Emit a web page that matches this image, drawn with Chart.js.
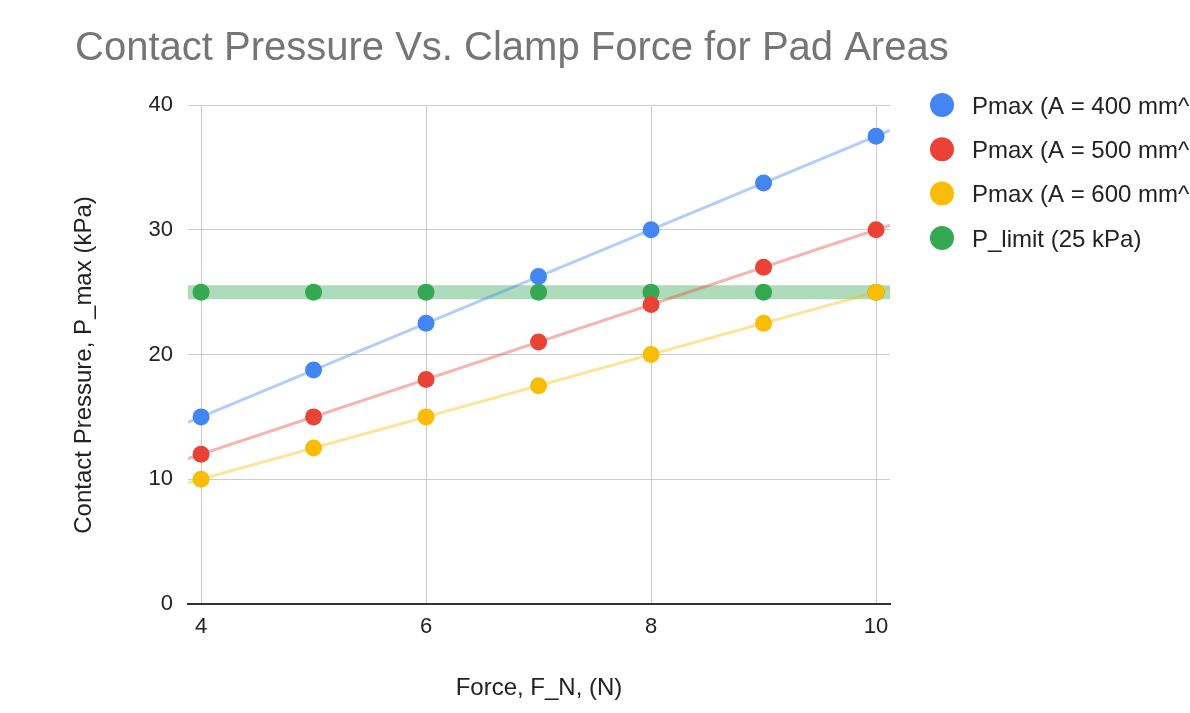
<!DOCTYPE html>
<html>
<head>
<meta charset="utf-8">
<script src="https://cdn.jsdelivr.net/npm/chart.js@4.4.0/dist/chart.umd.min.js"></script>
<style>
  html, body { margin: 0; padding: 0; background: #fff; overflow: hidden; }
  #wrap { width: 1190px; height: 713px; position: relative; }
</style>
</head>
<body>
<div id="wrap"><canvas id="myChart"></canvas></div>
<script>
// data
const forces = [4, 5, 6, 7, 8, 9, 10];
const pmax400 = [15, 18.75, 22.5, 26.25, 30, 33.75, 37.5];
const pmax500 = [12, 15, 18, 21, 24, 27, 30];
const pmax600 = [10, 12.5, 15, 17.5, 20, 22.5, 25];
const pLimit = [25, 25, 25, 25, 25, 25, 25];
const seriesNames = ['Pmax (A = 400 mm^2)', 'Pmax (A = 500 mm^2)', 'Pmax (A = 600 mm^2)', 'P_limit (25 kPa)'];
const seriesColors = ['#4285f4', '#ea4335', '#fbbc04', '#34a853'];
const xTicks = [4, 6, 8, 10];
const yTicks = [0, 10, 20, 30, 40];

const X_MIN = 3.884, X_MAX = 10.124;
const FONT = "'Liberation Sans', Arial, sans-serif";

function fade(hex, a) {
  const n = parseInt(hex.slice(1), 16);
  return `rgba(${n >> 16}, ${(n >> 8) & 255}, ${n & 255}, ${a})`;
}

// least squares trendline across the whole x range
function trend(ys) {
  const n = forces.length;
  const mx = forces.reduce((a, b) => a + b) / n;
  const my = ys.reduce((a, b) => a + b) / n;
  let sxy = 0, sxx = 0;
  forces.forEach((x, i) => { sxy += (x - mx) * (ys[i] - my); sxx += (x - mx) ** 2; });
  const m = sxy / sxx, b = my - m * mx;
  return [{x: X_MIN, y: m * X_MIN + b}, {x: X_MAX, y: m * X_MAX + b}];
}

const allSeries = [pmax400, pmax500, pmax600, pLimit];
const datasets = [];
allSeries.forEach((ys, i) => {
  datasets.push({
    label: seriesNames[i],
    data: forces.map((x, j) => ({x: x, y: ys[j]})),
    backgroundColor: seriesColors[i],
    borderWidth: 0,
    pointRadius: 8.5,
    pointHoverRadius: 8.5,
    showLine: false,
    order: 0
  });
});
allSeries.forEach((ys, i) => {
  datasets.push({
    label: 'trend ' + i,
    data: trend(ys),
    borderColor: fade(seriesColors[i], 0.4),
    borderWidth: i === 3 ? 14 : 3,
    pointRadius: 0,
    showLine: true,
    order: 1
  });
});

// title, y axis title and the legend on the right (text runs off the edge like the original)
const titleAndLegend = {
  id: 'titleAndLegend',
  afterDraw(chart) {
    const c = chart.ctx;
    c.save();
    c.fillStyle = '#757575';
    c.font = '40px ' + FONT;
    c.textBaseline = 'alphabetic';
    c.textAlign = 'left';
    c.fillText('Contact Pressure Vs. Clamp Force for Pad Areas', 75, 60);

    c.font = '24px ' + FONT;
    seriesNames.forEach((name, i) => {
      const y = 105 + i * 44.3;
      c.fillStyle = seriesColors[i];
      c.beginPath();
      c.arc(942, y, 12, 0, Math.PI * 2);
      c.fill();
      c.fillStyle = '#222';
      c.fillText(name, 972, y + 8.6);
    });

    c.translate(84, 365);
    c.rotate(-Math.PI / 2);
    c.textAlign = 'center';
    c.textBaseline = 'middle';
    c.fillStyle = '#222';
    c.fillText('Contact Pressure, P_max (kPa)', 0, 0);
    c.restore();
  }
};

var ctx = document.getElementById('myChart').getContext('2d');
// eslint-disable-next-line no-unused-vars
var chart = new Chart(ctx, {
  type: 'scatter',
  data: { datasets: datasets },
  options: {
    responsive: true,
    maintainAspectRatio: false,
    animation: false,
    layout: { padding: { left: 70, right: 300, top: 105, bottom: 10 } },
    plugins: { legend: { display: false }, tooltip: { enabled: false } },
    scales: {
      x: {
        type: 'linear',
        min: X_MIN,
        max: X_MAX,
        afterBuildTicks: (s) => { s.ticks = xTicks.map(v => ({value: v})); },
        afterFit: (s) => { s.height = 99; },
        grid: { color: '#cccccc', lineWidth: 1, drawTicks: false },
        border: { display: true, color: '#333333', width: 2 },
        ticks: { color: '#222', font: { family: FONT, size: 22 }, padding: 10, maxRotation: 0 },
        title: { display: true, text: 'Force, F_N, (N)', color: '#222', font: { family: FONT, size: 24 }, padding: 0 }
      },
      y: {
        min: 0,
        max: 40,
        afterBuildTicks: (s) => { s.ticks = yTicks.map(v => ({value: v})); },
        afterFit: (s) => { s.width = 118; },
        grid: { color: '#cccccc', lineWidth: 1, drawTicks: false },
        border: { display: false },
        ticks: { color: '#222', font: { family: FONT, size: 22 }, padding: 15 },
        title: { display: false }
      }
    }
  },
  plugins: [titleAndLegend]
});
</script>
</body>
</html>
